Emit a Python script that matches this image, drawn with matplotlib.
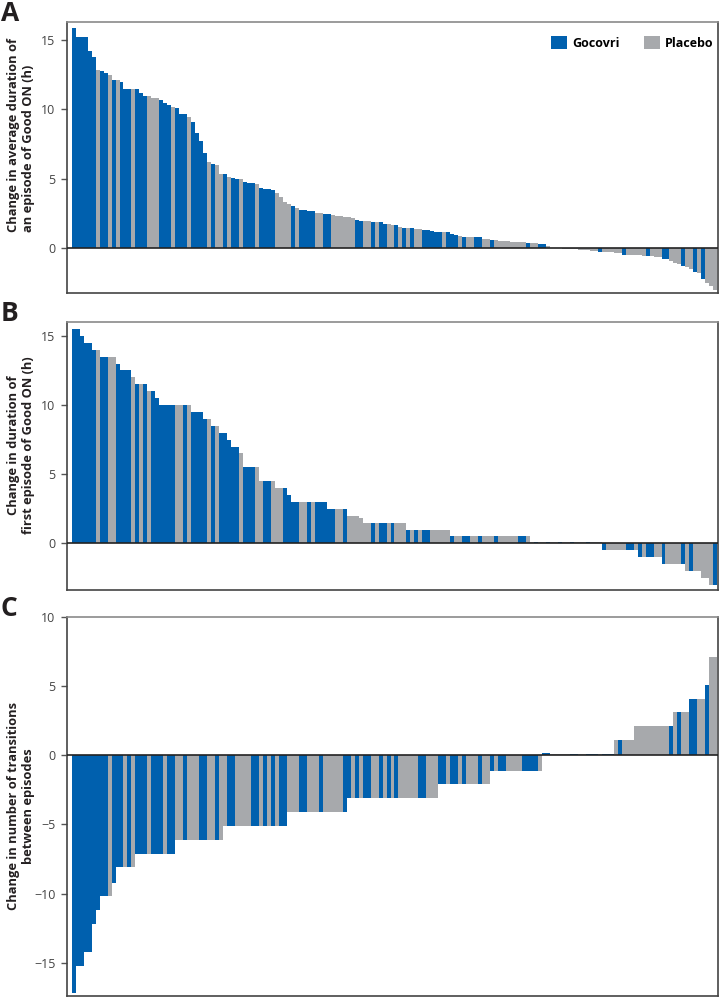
import numpy as np
import matplotlib
matplotlib.use("Agg")
import matplotlib.pyplot as plt
from matplotlib.patches import Patch

plt.rcParams['font.family'] = ['Open Sans', 'DejaVu Sans']

# G = Gocovri, P = Placebo (one letter per patient, sorted as in the figure)
groups_a = ("GGGGGGPGGP" "GPGGGPGGGP" "PPGGGPGGGP" "GGGGPGPPGP" "GGPGGGPGGG"
            "GPPPPGPGGG" "GPPGGPPPPP" "PGGPPGPGGP" "PGPGPGPPGG" "GGGPGGGPGP"
            "PGGPPGPPPP" "PPPPGPPGGP" "PPPPPPPPPP" "PPGPPPPPGP" "PPPPGPPPGG"
            "PPPGPPGPGP" "PP")
vals_a = [15.87, 15.24, 15.2, 15.2, 14.2, 13.8, 12.84, 12.8, 12.6, 12.45,
          12.1, 12.1, 11.95, 11.47, 11.47, 11.47, 11.47, 11.18, 10.94, 10.94,
          10.8, 10.8, 10.7, 10.46, 10.29, 10.2, 10.1, 9.64, 9.64, 9.45,
          9.1, 8.3, 7.7, 6.85, 6.2, 6.1, 6.0, 5.34, 5.34, 5.1,
          5.05, 4.98, 4.98, 4.74, 4.69, 4.67, 4.64, 4.37, 4.3, 4.25,
          4.18, 4.0, 3.7, 3.3, 3.17, 3.03, 2.93, 2.79, 2.74, 2.72,
          2.67, 2.57, 2.52, 2.48, 2.48, 2.4, 2.36, 2.3, 2.28, 2.26,
          2.16, 2.02, 2.0, 1.97, 1.97, 1.9, 1.9, 1.88, 1.75, 1.73,
          1.7, 1.66, 1.56, 1.49, 1.49, 1.47, 1.39, 1.37, 1.3, 1.3,
          1.23, 1.18, 1.18, 1.15, 1.15, 1.06, 0.96, 0.87, 0.84, 0.84,
          0.82, 0.8, 0.8, 0.65, 0.65, 0.63, 0.57, 0.55, 0.53, 0.5,
          0.48, 0.46, 0.44, 0.42, 0.4, 0.36, 0.35, 0.31, 0.31, 0.17,
          0.05, 0.0, 0.0, -0.02, -0.05, -0.06, -0.08, -0.1, -0.12, -0.14,
          -0.16, -0.2, -0.24, -0.26, -0.28, -0.3, -0.32, -0.34, -0.45, -0.46,
          -0.48, -0.5, -0.5, -0.52, -0.55, -0.58, -0.6, -0.62, -0.75, -0.75,
          -0.9, -1.05, -1.1, -1.27, -1.32, -1.47, -1.68, -1.8, -2.24, -2.48,
          -2.72, -3.0]

groups_b = ("GGGGGGPGGP" "PGGGGPGPGP" "GGGGGGPPGP" "GGGGPGPGGG" "GGPGGGPPGG"
            "PPPGGGGPPG" "PGGGGGPPGP" "PPPPPGPGGP" "GPPPGPGPGG" "PPPPPGPPGG"
            "PPGPPPGPPP" "PPGGPPGPPG" "PPGPPGPPPG" "PPPGPPPPPG" "GPGPGGPPGP"
            "PPPGPGPPPP" "PG")
vals_b = [15.5, 15.5, 15.0, 14.5, 14.5, 14.0, 14.0, 13.5, 13.5, 13.5,
          13.5, 13.0, 12.5, 12.5, 12.5, 12.0, 11.5, 11.5, 11.5, 11.0,
          11.0, 10.5, 10.0, 10.0, 10.0, 10.0, 10.0, 10.0, 10.0, 10.0,
          9.5, 9.5, 9.5, 9.0, 9.0, 8.5, 8.5, 8.0, 8.0, 7.5,
          7.0, 7.0, 6.5, 5.5, 5.5, 5.5, 5.5, 4.5, 4.5, 4.5,
          4.5, 4.0, 4.0, 4.0, 3.5, 3.0, 3.0, 3.0, 3.0, 3.0,
          3.0, 3.0, 3.0, 3.0, 2.5, 2.5, 2.5, 2.5, 2.5, 2.0,
          2.0, 2.0, 1.8, 1.5, 1.5, 1.5, 1.5, 1.5, 1.5, 1.5,
          1.5, 1.5, 1.5, 1.5, 1.0, 1.0, 1.0, 1.0, 1.0, 1.0,
          1.0, 1.0, 1.0, 1.0, 1.0, 0.5, 0.5, 0.5, 0.5, 0.5,
          0.5, 0.5, 0.5, 0.5, 0.5, 0.5, 0.5, 0.5, 0.5, 0.5,
          0.5, 0.5, 0.5, 0.5, 0.5, 0.12, 0.12, 0.12, 0.12, 0.12,
          0.12, 0.12, 0.12, 0.12, 0.12, 0.12, 0.12, 0.12, 0.12, 0.12,
          0.12, 0.12, 0.12, -0.5, -0.5, -0.5, -0.5, -0.5, -0.5, -0.5,
          -0.5, -0.5, -1.0, -1.0, -1.0, -1.0, -1.0, -1.0, -1.5, -1.5,
          -1.5, -1.5, -1.5, -1.5, -2.0, -2.0, -2.0, -2.0, -2.5, -2.5,
          -3.0, -3.0]

groups_c = ("GGGGGGGGGP" "GGGPGPGGGP" "GGGPGGPPGP" "PPGGPPGPPG" "GPPPPGGPGP"
            "GPGGPPPGGP" "PPGPPPPPGG" "PGPGGPPGPG" "PGPPPPPGGP" "PPGGPGGPGP"
            "PPGPPGPGGP" "PPPGGGGPGG" "PPPPPGGPPG" "GGPGGGPGPP" "PPPPPPPPPP"
            "GPGPPGGPPG" "PP")
vals_c = [-17.2, -15.2, -15.2, -14.2, -14.2, -12.2, -11.2, -10.2, -10.2, -10.2,
          -9.2, -8.1, -8.1, -8.1, -8.1, -8.1, -7.1, -7.1, -7.1, -7.1,
          -7.1, -7.1, -7.1, -7.1, -7.1, -7.1, -6.1, -6.1, -6.1, -6.1,
          -6.1, -6.1, -6.1, -6.1, -6.1, -6.1, -6.1, -6.1, -5.1, -5.1,
          -5.1, -5.1, -5.1, -5.1, -5.1, -5.1, -5.1, -5.1, -5.1, -5.1,
          -5.1, -5.1, -5.1, -5.1, -4.1, -4.1, -4.1, -4.1, -4.1, -4.1,
          -4.1, -4.1, -4.1, -4.1, -4.1, -4.1, -4.1, -4.1, -4.1, -3.1,
          -3.1, -3.1, -3.1, -3.1, -3.1, -3.1, -3.1, -3.1, -3.1, -3.1,
          -3.1, -3.1, -3.1, -3.1, -3.1, -3.1, -3.1, -3.1, -3.1, -3.1,
          -3.1, -3.1, -2.1, -2.1, -2.1, -2.1, -2.1, -2.1, -2.1, -2.1,
          -2.1, -2.1, -2.1, -2.1, -2.1, -1.1, -1.1, -1.1, -1.1, -1.1,
          -1.1, -1.1, -1.1, -1.1, -1.1, -1.1, -1.1, -1.1, 0.15, 0.15,
          0.12, 0.12, 0.12, 0.12, 0.12, 0.12, 0.12, 0.12, 0.12, 0.12,
          0.12, 0.12, 0.12, 0.12, 0.12, 0.12, 1.1, 1.1, 1.1, 1.1,
          1.1, 2.1, 2.1, 2.1, 2.1, 2.1, 2.1, 2.1, 2.1, 2.1,
          2.1, 3.1, 3.1, 3.1, 3.1, 4.1, 4.1, 4.1, 4.1, 5.1,
          7.1, 7.1]

ylabels = ["Change in average duration of\nan episode of Good ON (h)",
           "Change in duration of\nfirst episode of Good ON (h)",
           "Change in number of transitions\nbetween episodes"]
letters = ["A", "B", "C"]

BLUE = "#0060ae"
GRAY = "#a7a9ac"
colmap = {"G": BLUE, "P": GRAY}

W, H = 721, 997
fig = plt.figure(figsize=(W / 100, H / 100), dpi=100)

# axes boxes in pixels: (top, bottom)
boxes = [(22, 293), (322, 590), (617, 996)]
x0, x1 = 67.3, 717.7
ylims = [(-3.22, 16.3), (-3.37, 16.0), (-17.4, 10.0)]
yticks = [[0, 5, 10, 15], [0, 5, 10, 15], [-15, -10, -5, 0, 5, 10]]

panels = [(vals_a, groups_a), (vals_b, groups_b), (vals_c, groups_c)]
axes = []
for i, ((vals, grp), (top, bot)) in enumerate(zip(panels, boxes)):
    ax = fig.add_axes([x0 / W, 1 - bot / H, (x1 - x0) / W, (bot - top) / H])
    axes.append(ax)
    x = np.arange(len(vals))
    ax.bar(x, vals, width=1.0, color=[colmap[g] for g in grp],
           linewidth=0, zorder=2)
    ax.axhline(0, color="#222222", lw=1.2, zorder=3)
    ax.set_xlim(-1.6, len(vals) - 0.4)
    ax.set_ylim(*ylims[i])
    ax.set_yticks(yticks[i])
    ax.set_xticks([])
    ax.tick_params(axis="y", length=4, width=1, color="#555555", pad=4.5,
                   labelsize=9, labelcolor="#444444")
    for s in ["left", "bottom", "right"]:
        ax.spines[s].set_color("#444444")
        ax.spines[s].set_linewidth(1.2)
    ax.spines["top"].set_color("#8a8a8a")
    ax.spines["top"].set_linewidth(1.2)
    fig.text(1 / W, 1 - (top - 22) / H, letters[i], fontsize=19,
             fontweight="bold", ha="left", va="top", color="#231f20")

# y labels
lab_kw = dict(rotation=90, rotation_mode="anchor", va="bottom", fontsize=9.3,
              fontweight="bold", color="#231f20", linespacing=1.2)
fig.text(35 / W, 1 - 232 / H, ylabels[0], ha="left", multialignment="left",
         **lab_kw)
fig.text(35 / W, 1 - 445 / H, ylabels[1], ha="center",
         multialignment="center", **lab_kw)
fig.text(35 / W, 1 - 806 / H, ylabels[2], ha="center",
         multialignment="center", **lab_kw)

handles = [Patch(facecolor=BLUE, label="Gocovri"),
           Patch(facecolor=GRAY, label="Placebo")]
axes[0].legend(handles=handles, loc="center right",
               bbox_to_anchor=(0.9935, 0.924), ncol=2, frameon=False,
               handlelength=1.25, handleheight=1.25,
               handletextpad=0.4, columnspacing=2.0, borderpad=0,
               borderaxespad=0, prop={"weight": "bold", "size": 9})

fig.savefig("out.png", dpi=100)
